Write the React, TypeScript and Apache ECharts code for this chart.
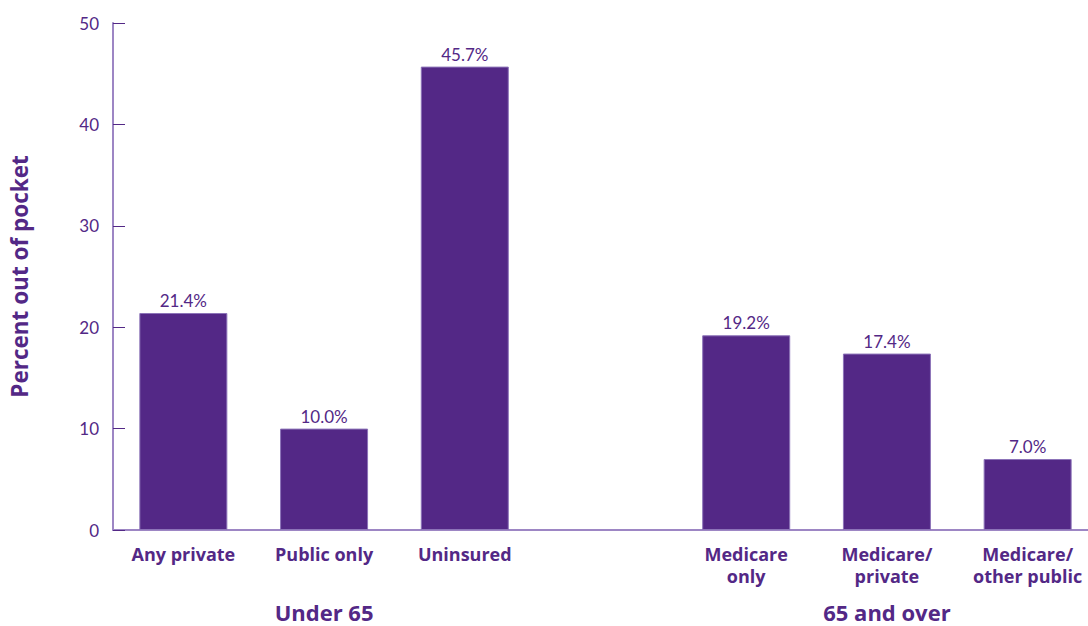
import React, { useEffect, useRef } from "react";
import * as echarts from "echarts";

const categories = ["Any private", "Public only", "Uninsured", "", "Medicare\nonly", "Medicare/\nprivate", "Medicare/\nother public"];
const values: (number | null)[] = [21.4, 10.0, 45.7, null, 19.2, 17.4, 7.0];
const groupLabels = ["", "Under 65", "", "", "", "65 and over", ""];
const yTicks = { min: 0, max: 50, interval: 10 };
const yName = "Percent out of pocket";

const PURPLE = "#532886";
const LIGHT = "#9d86c4";
const FONT = "Lato, 'Open Sans', sans-serif";
const BOLD = "'Open Sans', Lato, sans-serif";

export default function App() {
  const ref = useRef<HTMLDivElement>(null);
  useEffect(() => {
    document.body.style.margin = "0";
    const chart = echarts.init(ref.current!, null, { renderer: "svg" });
    chart.setOption({
      animation: false,
      grid: { left: 111, right: 0, top: 23, bottom: 96, containLabel: false },
      xAxis: [
        {
          type: "category",
          data: categories,
          axisLine: { lineStyle: { color: LIGHT, width: 2 } },
          axisTick: { show: false },
          axisLabel: {
            interval: 0,
            color: PURPLE,
            fontFamily: BOLD,
            fontWeight: "bold",
            fontSize: 18,
            lineHeight: 22,
            margin: 13,
          },
        },
        {
          type: "category",
          data: groupLabels,
          position: "bottom",
          offset: 70,
          axisLine: { show: false },
          axisTick: { show: false },
          axisLabel: {
            interval: 0,
            color: PURPLE,
            fontFamily: BOLD,
            fontWeight: "bold",
            fontSize: 22,
            lineHeight: 24,
            margin: 0,
          },
        },
      ],
      yAxis: {
        type: "value",
        min: yTicks.min,
        max: yTicks.max,
        interval: yTicks.interval,
        name: yName,
        nameLocation: "middle",
        nameGap: 82,
        nameRotate: 90,
        nameTextStyle: { color: PURPLE, fontFamily: BOLD, fontWeight: "bold", fontSize: 22.5 },
        axisLine: { show: true, lineStyle: { color: LIGHT, width: 2 } },
        axisTick: { show: true, inside: true, length: 12, lineStyle: { color: PURPLE, width: 1 } },
        splitLine: { show: false },
        axisLabel: { color: PURPLE, fontFamily: FONT, fontSize: 17, margin: 14 },
      },
      series: [
        {
          type: "bar",
          data: values,
          xAxisIndex: 0,
          barWidth: 88,
          itemStyle: { color: PURPLE, borderColor: "#8c73b8", borderWidth: 1 },
          label: {
            show: true,
            position: "top",
            distance: 4,
            color: PURPLE,
            fontFamily: FONT,
            fontSize: 17,
            formatter: (p: any) => Number(p.value).toFixed(1) + "%",
          },
        },
      ],
    });
    return () => chart.dispose();
  }, []);
  return (
    <div style={{ width: 1088, height: 626, overflow: "hidden", position: "relative" }}>
      <div ref={ref} style={{ width: 1098, height: 626 }} />
    </div>
  );
}
